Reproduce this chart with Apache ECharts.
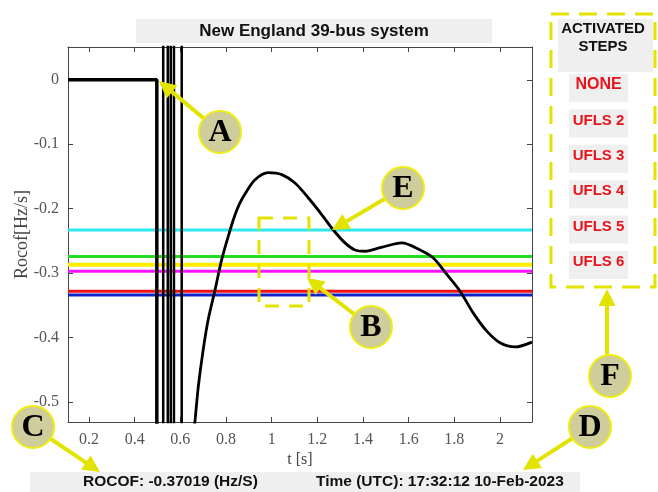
<!DOCTYPE html>
<html><head><meta charset="utf-8">
<script src="https://cdn.jsdelivr.net/npm/echarts@6/dist/echarts.min.js"></script>
<style>html,body{margin:0;padding:0;background:#fff}#c{width:658px;height:492px}</style>
</head><body><div id="c"></div>
<script>
// ---------- data ----------
const chartTitle = 'New England 39-bus system';
const xTicks = [0.2, 0.4, 0.6, 0.8, 1, 1.2, 1.4, 1.6, 1.8, 2];
const yTicks = [-0.5, -0.4, -0.3, -0.2, -0.1, 0];
const xRange = [0.108, 2.14];
const yRange = [-0.531, 0.051];

const thresholdValues = [-0.233, -0.274, -0.287, -0.297, -0.328, -0.334];
const thresholdColors = ['#2ee9f2', '#22dd22', '#ffee00', '#ff10ff', '#ee1111', '#1122cc'];

const preT = [0.108, 0.497, 0.497];
const preR = [0, 0, -0.6];
const spikeT = [0.525, 0.545, 0.558, 0.572, 0.606];
const spikeR = [0.06, -0.6];

const curveT = [0.658, 0.664, 0.679, 0.70, 0.722, 0.752, 0.781, 0.818, 0.84, 0.861, 0.883, 0.927, 0.985, 1.044, 1.102, 1.16, 1.219, 1.27, 1.321, 1.365, 1.409, 1.48, 1.57, 1.65, 1.708, 1.767, 1.825, 1.883, 1.942, 2.0, 2.066, 2.14];
const curveR = [-0.55, -0.53, -0.475, -0.419, -0.372, -0.326, -0.279, -0.233, -0.209, -0.191, -0.177, -0.155, -0.144, -0.147, -0.160, -0.183, -0.209, -0.233, -0.253, -0.264, -0.266, -0.260, -0.253, -0.264, -0.2765, -0.302, -0.328, -0.362, -0.390, -0.408, -0.4145, -0.407];

const stepsHeader = ['ACTIVATED', 'STEPS'];
const stepLabels = ['NONE', 'UFLS 2', 'UFLS 3', 'UFLS 4', 'UFLS 5', 'UFLS 6'];
const rocofText = 'ROCOF: -0.37019 (Hz/S)';
const timeText = 'Time (UTC): 17:32:12 10-Feb-2023';

// ---------- chart ----------
const chart = echarts.init(document.getElementById('c'));
const serif = '"Liberation Serif", "Times New Roman", serif';
const sans = '"Liberation Sans", Arial, sans-serif';
const Y = '#e3e300';
const axisCol = '#444';

const series = [];
thresholdValues.forEach((v, i) => {
  series.push({
    type: 'line', name: 'th' + i, data: [[xRange[0], v], [xRange[1], v]],
    symbol: 'none', silent: true, z: 2,
    lineStyle: { color: thresholdColors[i], width: i === 2 ? 4 : 3 }
  });
});
series.push({
  type: 'line', data: preT.map((t, i) => [t, preR[i]]), symbol: 'none', z: 3,
  lineStyle: { color: '#000', width: 3.5 }
});
spikeT.forEach(t => {
  series.push({
    type: 'line', data: spikeR.map(r => [t, r]), symbol: 'none', z: 3,
    lineStyle: { color: '#000', width: 2.5 }
  });
});
series.push({
  type: 'line', data: curveT.map((t, i) => [t, curveR[i]]), symbol: 'none', smooth: 0.3, z: 4,
  lineStyle: { color: '#000', width: 2.8 }
});

// graphics
const g = [];
function rect(x, y, w, h, fill, z) { g.push({ type: 'rect', shape: { x, y, width: w, height: h }, style: { fill }, z: z || 0 }); }
function text(x, y, t, font, fill, align, z) {
  g.push({ type: 'text', x, y, style: { text: t, font, fill, align: align || 'center', verticalAlign: 'middle' }, z: z || 1 });
}
function arrow(x1, y1, x2, y2) {
  const dx = x2 - x1, dy = y2 - y1, L = Math.hypot(dx, dy), ux = dx / L, uy = dy / L;
  const hl = 17, hw = 8.5;
  const bx = x2 - ux * hl, by = y2 - uy * hl;
  g.push({ type: 'line', shape: { x1, y1, x2: bx + ux * 2, y2: by + uy * 2 }, style: { stroke: Y, lineWidth: 4 }, z: 100 });
  g.push({ type: 'polygon', shape: { points: [[x2, y2], [bx - uy * hw, by + ux * hw], [bx + uy * hw, by - ux * hw]] }, style: { fill: Y }, z: 100 });
}
function badge(cx, cy, letter) {
  g.push({ type: 'circle', shape: { cx, cy, r: 21 }, style: { fill: '#cfcd9c', stroke: '#eeee10', lineWidth: 2 }, z: 101 });
  text(cx, cy + 1, letter, 'bold 32px ' + serif, '#000', 'center', 102);
}

// title
rect(136, 19, 356, 24, '#efefef');
text(314, 31, chartTitle, 'bold 17px ' + sans, '#111');

// bottom bar
rect(30, 472, 550, 22, '#efefef');
text(83, 482, rocofText, 'bold 15.5px ' + sans, '#111', 'left');
text(316, 482, timeText, 'bold 15.5px ' + sans, '#111', 'left');

// right panel
g.push({ type: 'rect', shape: { x: 551, y: 14, width: 104, height: 273 }, style: { fill: 'none', stroke: Y, lineWidth: 3, lineDash: [18, 10] }, z: 1 });
rect(558, 19, 95, 53, '#efefef');
text(603, 29, stepsHeader[0], 'bold 15px ' + sans, '#111');
text(603, 47, stepsHeader[1], 'bold 15px ' + sans, '#111');
stepLabels.forEach((s, i) => {
  const ty = 85 + i * 35.4;
  rect(569, ty - 11, 59, 28, '#efefef');
  text(598.5, ty, s, (i === 0 ? 'bold 16px ' : 'bold 15px ') + sans, '#e8141c');
});

// dashed box B
g.push({ type: 'rect', shape: { x: 259, y: 218, width: 50, height: 88 }, style: { fill: 'none', stroke: Y, lineWidth: 3, lineDash: [14, 10] }, z: 99 });

// annotations
arrow(220, 132, 159, 81); badge(220, 132, 'A');
arrow(371, 327, 307, 278); badge(371, 327, 'B');
arrow(33, 427, 100, 472); badge(33, 427, 'C');
arrow(590, 427, 523, 470); badge(590, 427, 'D');
arrow(403, 188, 332, 230); badge(403, 188, 'E');
arrow(607, 360, 607, 289); badge(610, 376, 'F');

const xBase = {
  type: 'value', min: xRange[0], max: xRange[1],
  axisLine: { show: true, onZero: false, lineStyle: { color: axisCol, width: 1 } },
  axisTick: { show: true, inside: true, length: 5, customValues: xTicks, lineStyle: { color: axisCol } },
  splitLine: { show: false }
};
const yBase = {
  type: 'value', min: yRange[0], max: yRange[1],
  axisLine: { show: true, onZero: false, lineStyle: { color: axisCol, width: 1 } },
  axisTick: { show: true, inside: true, length: 5, customValues: yTicks, lineStyle: { color: axisCol } },
  splitLine: { show: false }
};

chart.setOption({
  animation: false,
  grid: { left: 68, right: 126, top: 47, bottom: 70, containLabel: false },
  xAxis: [
    Object.assign({}, xBase, {
      position: 'bottom',
      axisLabel: { customValues: xTicks, fontFamily: serif, fontSize: 16, color: '#555', margin: 10 },
      name: 't [s]', nameLocation: 'middle', nameGap: 30, nameMoveOverlap: false,
      nameTextStyle: { fontFamily: serif, fontSize: 16, color: '#444' }
    }),
    Object.assign({}, xBase, { position: 'top', axisLabel: { show: false } })
  ],
  yAxis: [
    Object.assign({}, yBase, {
      position: 'left',
      axisLabel: { customValues: yTicks, fontFamily: serif, fontSize: 16, color: '#555', margin: 9 },
      name: 'Rocof[Hz/s]', nameLocation: 'middle', nameGap: 37, nameMoveOverlap: false,
      nameTextStyle: { fontFamily: serif, fontSize: 18, color: '#444' }
    }),
    Object.assign({}, yBase, { position: 'right', axisLabel: { show: false } })
  ],
  series: series,
  graphic: g
});
</script></body></html>
